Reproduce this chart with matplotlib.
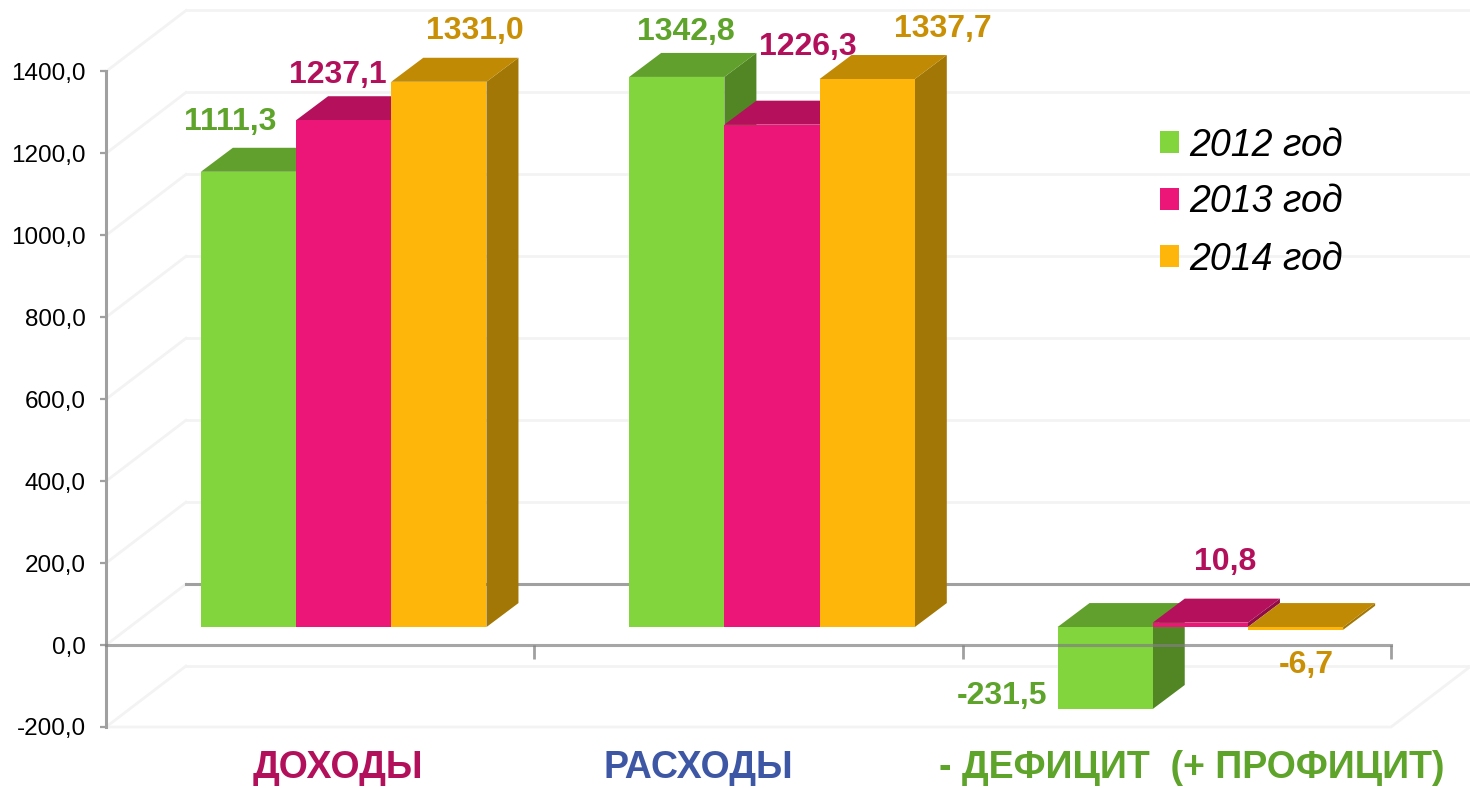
import numpy as np
import matplotlib
matplotlib.use("Agg")
import matplotlib.pyplot as plt
from matplotlib.patches import Polygon, Patch

plt.rcParams['font.family'] = ['Liberation Sans', 'DejaVu Sans']

# data
categories = ['ДОХОДЫ', 'РАСХОДЫ', '- ДЕФИЦИТ  (+ ПРОФИЦИТ)']
years = ['2012 год', '2013 год', '2014 год']
values_2012 = [1111.3, 1342.8, -231.5]
values_2013 = [1237.1, 1226.3, 10.8]
values_2014 = [1331.0, 1337.7, -6.7]
yticks = [-200, 0, 200, 400, 600, 800, 1000, 1200, 1400]
ytick_labels = ['-200,0', '0,0', '200,0', '400,0', '600,0', '800,0', '1000,0', '1200,0', '1400,0']

# styles
front = ['#82d53c', '#ec1679', '#ffb60a']
top = ['#61a02c', '#b4105c', '#c08a04']
side = ['#528524', '#8f0c49', '#a37705']
label_col = ['#5ea32a', '#b3105c', '#c98f05']
cat_col = ['#b3105c', '#3d57a5', '#5ea32a']
wall = '#f3f3f3'
axis_col = '#a0a0a0'

# label offsets from bar top, pixels
label_off = [[(-18, 50), (-6, 45), (36, 51)],
             [(9, 45), (36, 78), (76, 50)],
             [(-103, -69), (25, 61), (11, -38)]]

W, H = 1470, 788
fig = plt.figure(figsize=(W / 100, H / 100), dpi=100)
# plot box of the front plane, in pixels
left, right, ytop, ybot = 106, 1391, 71.5, 727
ax = fig.add_axes([left / W, (H - ybot) / H, (right - left) / W, (ybot - ytop) / H])
ax.set_xlim(-0.5, 2.5)
ax.set_ylim(-200, 1400)
px_x = (right - left) / 3.0
px_y = (ybot - ytop) / 1600.0


def dx(p):
    return p / px_x


def dy(p):
    return p / px_y


# walls of the 3d box
back_x, back_y = dx(80), dy(61)
for t in yticks:
    ax.plot([-0.5, -0.5 + back_x], [t, t + back_y], color=wall, lw=2, clip_on=False, zorder=1)
    if t == 0:
        ax.plot([-0.5 + back_x, 2.5 + back_x], [back_y, back_y], color=axis_col, lw=2.2, clip_on=False, zorder=1)
    else:
        ax.plot([-0.5 + back_x, 2.5 + back_x], [t + back_y, t + back_y], color=wall, lw=2, clip_on=False, zorder=1)
ax.plot([-0.5, 2.5, 2.5 + back_x], [-200, -200, -200 + back_y], color=wall, lw=2, clip_on=False, zorder=1)

# bars
bw = dx(95.2)
shift_x, shift_y = dx(23.5), dy(18)
depth_x, depth_y = dx(32), dy(24)
handles = []
series = [values_2012, values_2013, values_2014]
for g in range(len(categories)):
    for s, vals in enumerate(series):
        z = 3 + g * 3 + s * 3
        v = max(vals[g], -200)  # the axis cuts the bar off at its minimum
        x0 = g + shift_x + (s - 1.5) * bw
        x1 = x0 + bw
        hi = max(v, 0) + shift_y
        lo = min(v, 0) + shift_y
        ax.add_patch(Polygon([(x1, lo), (x1 + depth_x, lo + depth_y), (x1 + depth_x, hi + depth_y), (x1, hi)],
                             facecolor=side[s], edgecolor='none', clip_on=False, zorder=z))
        ax.add_patch(Polygon([(x0, hi), (x0 + depth_x, hi + depth_y), (x1 + depth_x, hi + depth_y), (x1, hi)],
                             facecolor=top[s], edgecolor='none', clip_on=False, zorder=z))
        ax.bar(x0 + bw / 2, hi - lo, bw, bottom=lo, color=front[s], clip_on=False, zorder=z + 1)
        ax.annotate(f'{vals[g]:.1f}'.replace('.', ','), xy=(x0 + bw / 2, hi), xytext=label_off[g][s],
                    textcoords='offset pixels', ha='center', va='center', fontsize=23,
                    fontweight='bold', color=label_col[s], zorder=40, annotation_clip=False)

for s in range(3):
    handles.append(Patch(facecolor=front[s], edgecolor='none', label=years[s]))

# axes
for name in ['top', 'right', 'bottom']:
    ax.spines[name].set_visible(False)
ax.spines['left'].set_color(axis_col)
ax.spines['left'].set_linewidth(2.2)
ax.spines['bottom'].set_position(('data', 0))
# zero line runs over the bar in the third group
ax.plot([-0.5, 2.5], [0, 0], color='#808080', alpha=0.7, lw=2.2, clip_on=False, zorder=35)
ax.set_yticks(yticks)
ax.set_yticklabels(ytick_labels)
ax.tick_params(axis='y', length=4.5, width=1.6, color=axis_col, pad=10, labelsize=17.5, labelcolor='#000000')
ax.set_xticks([-0.5, 0.5, 1.5, 2.5])
ax.set_xticklabels([])
ax.tick_params(axis='x', length=10, width=2, color=axis_col, direction='out')
ax.patch.set_visible(False)

# category names
cat_x = [338, 698, 1192]
for c, name in enumerate(categories):
    fig.text(cat_x[c] / W, 1 - 768 / H, name, ha='center', va='center', color=cat_col[c],
             fontsize=27, fontweight='bold')

fig.legend(handles=handles, loc='upper left', bbox_to_anchor=(1160 / W, 1 - 127.5 / H), frameon=False,
           prop={'size': 27, 'style': 'italic'}, handlelength=0.507, handleheight=0.507,
           handletextpad=0.27, labelspacing=0.56, borderpad=0, borderaxespad=0)

fig.savefig('out.png', dpi=100)
